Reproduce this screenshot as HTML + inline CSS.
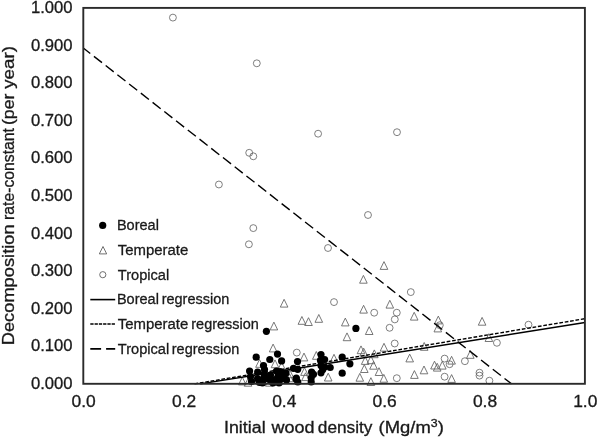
<!DOCTYPE html>
<html lang="en"><head><meta charset="utf-8"><title>Decomposition rate-constant vs initial wood density</title>
<style>
html,body{margin:0;padding:0;background:#fff;}
body{width:598px;height:438px;overflow:hidden;}
svg{display:block;}
text{font-family:"Liberation Sans",sans-serif;fill:#1a1a1a;stroke:#1a1a1a;stroke-width:0.3px;}
.tk{font-size:16px;}
.lg{font-size:14.9px;}
.ax{font-size:15.6px;}
</style></head><body>
<svg width="598" height="438" viewBox="0 0 598 438">
<rect x="0" y="0" width="598" height="438" fill="#ffffff"/>

<g fill="none" stroke="#606060" stroke-width="0.8">
<circle cx="172.9" cy="17.6" r="3.45"/>
<circle cx="256.8" cy="63.3" r="3.45"/>
<circle cx="249.2" cy="152.8" r="3.45"/>
<circle cx="253.3" cy="156.3" r="3.45"/>
<circle cx="218.9" cy="184.5" r="3.45"/>
<circle cx="318.1" cy="133.7" r="3.45"/>
<circle cx="397.0" cy="132.2" r="3.45"/>
<circle cx="368.0" cy="215.0" r="3.45"/>
<circle cx="253.3" cy="228.1" r="3.45"/>
<circle cx="248.9" cy="244.3" r="3.45"/>
<circle cx="328.0" cy="248.0" r="3.45"/>
<circle cx="410.8" cy="292.1" r="3.45"/>
<circle cx="334.0" cy="302.1" r="3.45"/>
<circle cx="374.2" cy="312.7" r="3.45"/>
<circle cx="396.8" cy="312.7" r="3.45"/>
<circle cx="394.8" cy="319.4" r="3.45"/>
<circle cx="389.6" cy="327.8" r="3.45"/>
<circle cx="394.7" cy="343.5" r="3.45"/>
<circle cx="296.8" cy="352.6" r="3.45"/>
<circle cx="439.8" cy="325.2" r="3.45"/>
<circle cx="444.6" cy="358.6" r="3.45"/>
<circle cx="464.9" cy="361.2" r="3.45"/>
<circle cx="449.6" cy="364.2" r="3.45"/>
<circle cx="396.8" cy="378.2" r="3.45"/>
<circle cx="444.6" cy="376.7" r="3.45"/>
<circle cx="479.5" cy="372.7" r="3.45"/>
<circle cx="479.5" cy="375.6" r="3.45"/>
<circle cx="489.4" cy="380.7" r="3.45"/>
<circle cx="528.5" cy="324.7" r="3.45"/>
<circle cx="496.9" cy="342.8" r="3.45"/>
</g>
<g fill="none" stroke="#606060" stroke-width="0.85" stroke-linejoin="miter">
<path d="M284.1 299.3L287.9 307.1L280.3 307.1Z"/>
<path d="M273.9 322.1L277.7 329.9L270.1 329.9Z"/>
<path d="M301.9 316.5L305.7 324.3L298.1 324.3Z"/>
<path d="M308.5 317.7L312.3 325.5L304.7 325.5Z"/>
<path d="M318.8 314.5L322.6 322.3L315.0 322.3Z"/>
<path d="M345.3 318.1L349.1 325.9L341.5 325.9Z"/>
<path d="M363.4 275.4L367.2 283.2L359.6 283.2Z"/>
<path d="M363.6 305.3L367.4 313.1L359.8 313.1Z"/>
<path d="M389.8 300.3L393.6 308.1L386.0 308.1Z"/>
<path d="M384.0 261.6L387.8 269.4L380.2 269.4Z"/>
<path d="M369.2 326.7L373.0 334.5L365.4 334.5Z"/>
<path d="M347.0 332.9L350.8 340.7L343.2 340.7Z"/>
<path d="M384.0 343.3L387.8 351.1L380.2 351.1Z"/>
<path d="M361.0 345.9L364.8 353.7L357.2 353.7Z"/>
<path d="M363.7 348.2L367.5 356.0L359.9 356.0Z"/>
<path d="M374.3 349.9L378.1 357.7L370.5 357.7Z"/>
<path d="M414.2 312.3L418.0 320.1L410.4 320.1Z"/>
<path d="M438.3 316.1L442.1 323.9L434.5 323.9Z"/>
<path d="M437.8 324.1L441.6 331.9L434.0 331.9Z"/>
<path d="M482.1 317.4L485.9 325.2L478.3 325.2Z"/>
<path d="M424.2 342.5L428.0 350.3L420.4 350.3Z"/>
<path d="M488.9 333.7L492.7 341.5L485.1 341.5Z"/>
<path d="M409.7 354.1L413.5 361.9L405.9 361.9Z"/>
<path d="M451.6 356.3L455.4 364.1L447.8 364.1Z"/>
<path d="M470.3 350.5L474.1 358.3L466.5 358.3Z"/>
<path d="M434.5 361.2L438.3 369.0L430.7 369.0Z"/>
<path d="M437.2 363.3L441.0 371.1L433.4 371.1Z"/>
<path d="M442.3 361.3L446.1 369.1L438.5 369.1Z"/>
<path d="M424.0 366.0L427.8 373.8L420.2 373.8Z"/>
<path d="M414.4 370.6L418.2 378.4L410.6 378.4Z"/>
<path d="M383.8 374.4L387.6 382.2L380.0 382.2Z"/>
<path d="M451.6 374.6L455.4 382.4L447.8 382.4Z"/>
<path d="M365.2 356.6L369.0 364.4L361.4 364.4Z"/>
<path d="M370.9 355.9L374.7 363.7L367.1 363.7Z"/>
<path d="M364.3 364.7L368.1 372.5L360.5 372.5Z"/>
<path d="M373.5 361.4L377.3 369.2L369.7 369.2Z"/>
<path d="M379.0 367.7L382.8 375.5L375.2 375.5Z"/>
<path d="M359.8 373.4L363.6 381.2L356.0 381.2Z"/>
<path d="M370.9 377.7L374.7 385.5L367.1 385.5Z"/>
<path d="M328.2 373.2L332.0 381.0L324.4 381.0Z"/>
<path d="M334.0 354.3L337.8 362.1L330.2 362.1Z"/>
<path d="M304.0 353.1L307.8 360.9L300.2 360.9Z"/>
<path d="M316.3 351.5L320.1 359.3L312.5 359.3Z"/>
<path d="M273.1 344.1L276.9 351.9L269.3 351.9Z"/>
<path d="M259.5 359.5L263.3 367.3L255.7 367.3Z"/>
<path d="M275.0 359.9L278.8 367.7L271.2 367.7Z"/>
<path d="M281.6 362.1L285.4 369.9L277.8 369.9Z"/>
<path d="M289.8 369.9L293.6 377.7L286.0 377.7Z"/>
<path d="M242.3 377.1L246.1 384.9L238.5 384.9Z"/>
<path d="M258.5 375.5L262.3 383.3L254.7 383.3Z"/>
<path d="M278.5 376.9L282.3 384.7L274.7 384.7Z"/>
<path d="M248.0 378.4L251.8 386.2L244.2 386.2Z"/>
<path d="M269.3 378.4L273.1 386.2L265.5 386.2Z"/>
<path d="M304.5 367.6L308.3 375.4L300.7 375.4Z"/>
<path d="M305.5 372.8L309.3 380.6L301.7 380.6Z"/>
<path d="M289.6 373.9L293.4 381.7L285.8 381.7Z"/>
</g>
<g fill="#000" stroke="none">
<circle cx="266.4" cy="331.3" r="3.6"/>
<circle cx="355.9" cy="328.4" r="3.6"/>
<circle cx="256.2" cy="357.2" r="3.6"/>
<circle cx="277.5" cy="354.1" r="3.6"/>
<circle cx="269.8" cy="359.5" r="3.6"/>
<circle cx="281.6" cy="360.9" r="3.6"/>
<circle cx="297.5" cy="361.6" r="3.6"/>
<circle cx="263.5" cy="365.5" r="3.6"/>
<circle cx="264.5" cy="369.5" r="3.6"/>
<circle cx="249.6" cy="371.0" r="3.6"/>
<circle cx="257.6" cy="372.0" r="3.6"/>
<circle cx="250.5" cy="376.5" r="3.6"/>
<circle cx="251.5" cy="381.5" r="3.6"/>
<circle cx="264.0" cy="374.0" r="3.6"/>
<circle cx="263.5" cy="378.5" r="3.6"/>
<circle cx="262.5" cy="383.0" r="3.6"/>
<circle cx="276.5" cy="371.0" r="3.6"/>
<circle cx="280.0" cy="371.5" r="3.6"/>
<circle cx="283.5" cy="373.0" r="3.6"/>
<circle cx="278.0" cy="376.0" r="3.6"/>
<circle cx="275.0" cy="379.5" r="3.6"/>
<circle cx="281.5" cy="379.0" r="3.6"/>
<circle cx="271.0" cy="381.0" r="3.6"/>
<circle cx="293.5" cy="368.3" r="3.6"/>
<circle cx="297.7" cy="369.3" r="3.6"/>
<circle cx="296.3" cy="378.0" r="3.6"/>
<circle cx="297.8" cy="382.0" r="3.6"/>
<circle cx="286.0" cy="373.0" r="3.6"/>
<circle cx="286.5" cy="380.0" r="3.6"/>
<circle cx="311.6" cy="372.0" r="3.6"/>
<circle cx="313.5" cy="374.3" r="3.6"/>
<circle cx="311.2" cy="378.0" r="3.6"/>
<circle cx="311.2" cy="382.0" r="3.6"/>
<circle cx="321.0" cy="354.6" r="3.6"/>
<circle cx="324.6" cy="359.5" r="3.6"/>
<circle cx="320.5" cy="360.4" r="3.6"/>
<circle cx="321.0" cy="365.6" r="3.6"/>
<circle cx="324.6" cy="367.0" r="3.6"/>
<circle cx="330.2" cy="367.5" r="3.6"/>
<circle cx="321.0" cy="372.8" r="3.6"/>
<circle cx="342.2" cy="357.2" r="3.6"/>
<circle cx="349.9" cy="363.8" r="3.6"/>
<circle cx="342.2" cy="373.2" r="3.6"/>
<circle cx="270.5" cy="375.0" r="3.6"/>
<circle cx="268.0" cy="379.0" r="3.6"/>
<circle cx="273.0" cy="383.0" r="3.6"/>
<circle cx="279.0" cy="383.0" r="3.6"/>
<circle cx="284.5" cy="378.0" r="3.6"/>
<circle cx="257.5" cy="378.5" r="3.6"/>
<circle cx="259.5" cy="382.5" r="3.6"/>
<circle cx="296.2" cy="379.2" r="3.6"/>
<circle cx="322.8" cy="369.6" r="3.6"/>
</g>
<g fill="none" stroke="#000" stroke-width="1.4">
<line x1="200.3" y1="383.9" x2="585.0" y2="322.5"/>
<line x1="194.5" y1="383.9" x2="585.0" y2="318.7" stroke-dasharray="3.7 1.74"/>
<line x1="83.3" y1="48.0" x2="511.5" y2="383.9" stroke-dasharray="10.25 4.66" stroke-dashoffset="1.4"/>
</g>
<rect x="83.3" y="7.9" width="501.6" height="375.9" fill="none" stroke="#2b2b2b" stroke-width="1.9"/>
<text class="tk" x="72.6" y="13.1" text-anchor="end" textLength="41.6" lengthAdjust="spacingAndGlyphs">1.000</text>
<text class="tk" x="72.6" y="50.7" text-anchor="end" textLength="41.6" lengthAdjust="spacingAndGlyphs">0.900</text>
<text class="tk" x="72.6" y="88.3" text-anchor="end" textLength="41.6" lengthAdjust="spacingAndGlyphs">0.800</text>
<text class="tk" x="72.6" y="125.9" text-anchor="end" textLength="41.6" lengthAdjust="spacingAndGlyphs">0.700</text>
<text class="tk" x="72.6" y="163.4" text-anchor="end" textLength="41.6" lengthAdjust="spacingAndGlyphs">0.600</text>
<text class="tk" x="72.6" y="201.0" text-anchor="end" textLength="41.6" lengthAdjust="spacingAndGlyphs">0.500</text>
<text class="tk" x="72.6" y="238.6" text-anchor="end" textLength="41.6" lengthAdjust="spacingAndGlyphs">0.400</text>
<text class="tk" x="72.6" y="276.2" text-anchor="end" textLength="41.6" lengthAdjust="spacingAndGlyphs">0.300</text>
<text class="tk" x="72.6" y="313.8" text-anchor="end" textLength="41.6" lengthAdjust="spacingAndGlyphs">0.200</text>
<text class="tk" x="72.6" y="351.4" text-anchor="end" textLength="41.6" lengthAdjust="spacingAndGlyphs">0.100</text>
<text class="tk" x="72.6" y="388.9" text-anchor="end" textLength="41.6" lengthAdjust="spacingAndGlyphs">0.000</text>
<text class="tk" x="83.6" y="406.9" text-anchor="middle" textLength="24.2" lengthAdjust="spacingAndGlyphs">0.0</text>
<text class="tk" x="184.0" y="406.9" text-anchor="middle" textLength="24.2" lengthAdjust="spacingAndGlyphs">0.2</text>
<text class="tk" x="284.3" y="406.9" text-anchor="middle" textLength="24.2" lengthAdjust="spacingAndGlyphs">0.4</text>
<text class="tk" x="384.6" y="406.9" text-anchor="middle" textLength="24.2" lengthAdjust="spacingAndGlyphs">0.6</text>
<text class="tk" x="485.0" y="406.9" text-anchor="middle" textLength="24.2" lengthAdjust="spacingAndGlyphs">0.8</text>
<text class="tk" x="585.3" y="406.9" text-anchor="middle" textLength="24.2" lengthAdjust="spacingAndGlyphs">1.0</text>
<text class="ax" x="224.0" y="432.5" textLength="41.6" lengthAdjust="spacingAndGlyphs">Initial</text>
<text class="ax" x="271.6" y="432.5" textLength="43.0" lengthAdjust="spacingAndGlyphs">wood</text>
<text class="ax" x="317.8" y="432.5" textLength="54.6" lengthAdjust="spacingAndGlyphs">density</text>
<text class="ax" x="378.6" y="432.5" textLength="65.2" lengthAdjust="spacingAndGlyphs">(Mg/m<tspan font-size="10.4px" dy="-5.6">3</tspan><tspan dy="5.6">)</tspan></text>
<g transform="translate(13.7 344.1) rotate(-90)">
<text class="ax" x="-1.2" y="0.0" textLength="120.9" lengthAdjust="spacingAndGlyphs">Decomposition</text>
<text class="ax" x="124.1" y="0.0" textLength="92.0" lengthAdjust="spacingAndGlyphs">rate-constant</text>
<text class="ax" x="219.1" y="0.0" textLength="31.4" lengthAdjust="spacingAndGlyphs">(per</text>
<text class="ax" x="255.3" y="0.0" textLength="42.8" lengthAdjust="spacingAndGlyphs">year)</text>
</g>
<circle cx="102.7" cy="225.4" r="3.6" fill="#000"/>
<path d="M103.0 246.5L106.7 253.9L99.3 253.9Z" fill="#fff" stroke="#606060" stroke-width="0.9"/>
<circle cx="102.8" cy="274.7" r="3.1" fill="#fff" stroke="#606060" stroke-width="0.9"/>
<g fill="none" stroke="#000" stroke-width="1.6">
<line x1="90.3" y1="299.6" x2="115.2" y2="299.6"/>
<line x1="90.3" y1="324.0" x2="115.2" y2="324.0" stroke-dasharray="3.3 0.97"/>
<line x1="90.3" y1="348.9" x2="115.2" y2="348.9" stroke-dasharray="10.8 5"/>
</g>
<text class="lg" x="116.9" y="230.1" textLength="42.0" lengthAdjust="spacingAndGlyphs">Boreal</text>
<text class="lg" x="117.8" y="254.8" textLength="70.4" lengthAdjust="spacingAndGlyphs">Temperate</text>
<text class="lg" x="117.8" y="279.5" textLength="51.4" lengthAdjust="spacingAndGlyphs">Tropical</text>
<text class="lg" x="116.9" y="304.2" textLength="42.0" lengthAdjust="spacingAndGlyphs">Boreal</text>
<text class="lg" x="161.7" y="304.2" textLength="67.6" lengthAdjust="spacingAndGlyphs">regression</text>
<text class="lg" x="117.8" y="328.9" textLength="70.4" lengthAdjust="spacingAndGlyphs">Temperate</text>
<text class="lg" x="191.3" y="328.9" textLength="67.5" lengthAdjust="spacingAndGlyphs">regression</text>
<text class="lg" x="117.8" y="353.6" textLength="51.4" lengthAdjust="spacingAndGlyphs">Tropical</text>
<text class="lg" x="171.8" y="353.6" textLength="67.6" lengthAdjust="spacingAndGlyphs">regression</text>
</svg></body></html>
